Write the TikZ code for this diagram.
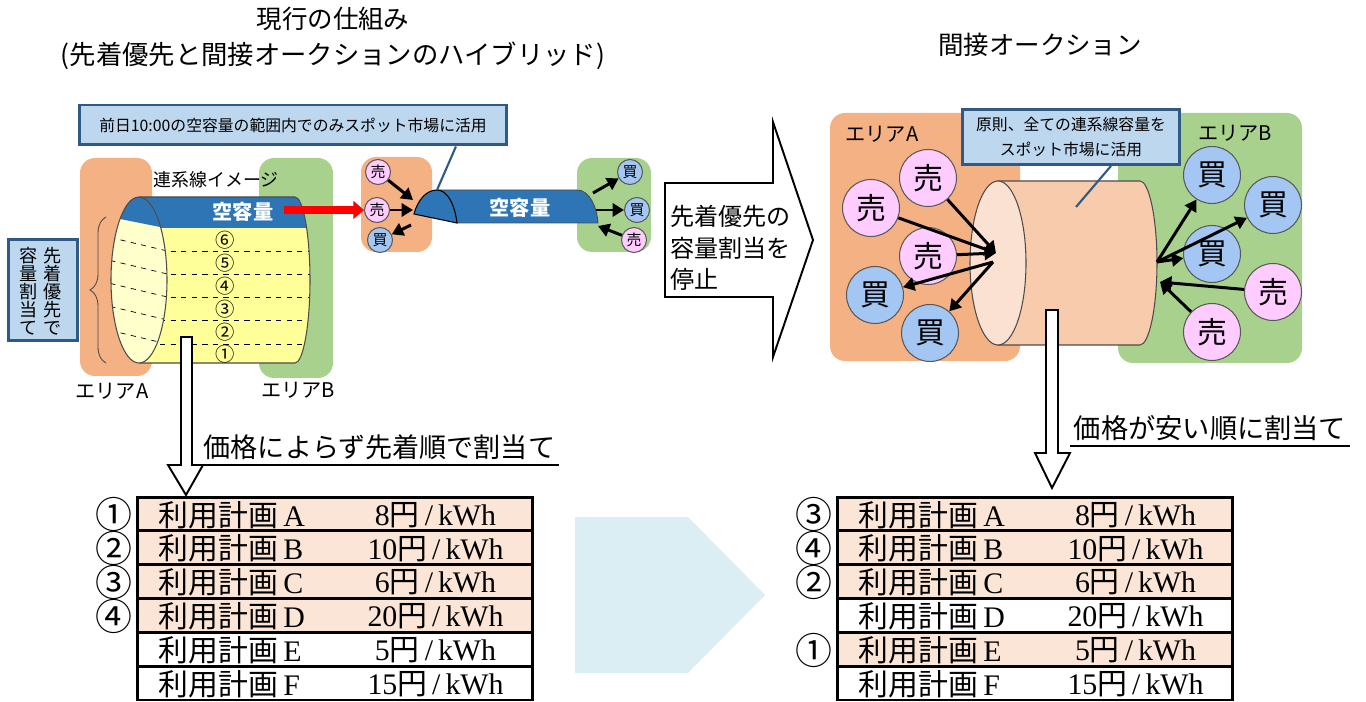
\documentclass[tikz,border=0pt]{standalone}
\usepackage{fontspec}
\setmainfont{Noto Sans CJK JP}
\newfontfamily\latinSerif{Liberation Serif}
\usetikzlibrary{calc,arrows.meta,decorations.pathreplacing}

\definecolor{areaOrange}{HTML}{F4B183}
\definecolor{areaGreen}{HTML}{A9D18E}
\definecolor{capBlue}{HTML}{2E75B6}
\definecolor{noteFill}{HTML}{BDD7EE}
\definecolor{noteEdge}{HTML}{2F5A85}
\definecolor{bandYellow}{HTML}{FFFF99}
\definecolor{faceYellow}{HTML}{FFFFCC}
\definecolor{sellPink}{HTML}{FFCCFF}
\definecolor{buyBlue}{HTML}{A3C7F2}
\definecolor{pipePeach}{HTML}{F8CBAD}
\definecolor{pipeFace}{HTML}{FBE1D2}
\definecolor{rowPeach}{HTML}{FBE5D6}
\definecolor{hintBlue}{HTML}{DAEEF3}

\newcommand{\fsz}[2]{\fontsize{#1}{#2}\selectfont}

\tikzset{
  area/.style={rounded corners=0.3cm},
  noteBox/.style={draw=noteEdge, line width=1.7pt, fill=noteFill, inner sep=0pt, align=center},
  noteLine/.style={draw=noteEdge, line width=1.2pt},
  dot/.style={circle, draw=black!65, line width=0.6pt, inner sep=0pt},
  sellDot/.style={dot, fill=sellPink},
  buyDot/.style={dot, fill=buyBlue},
  smallDot/.style={minimum size=0.5cm, font=\fsz{8.5}{9}},
  bigDot/.style={minimum size=1.14cm, font=\fsz{17}{18}},
  flow/.style={line width=1.7pt, -{Triangle[length=6.5pt,width=7.5pt]}},
  hollow/.style={draw, fill=white, line width=1.1pt, line join=miter},
  planRow/.style={draw, line width=1.7pt, minimum width=7.92cm, minimum height=0.677cm, inner sep=0pt},
  planText/.style={font=\fsz{17}{18}, inner sep=0pt},
  rankText/.style={font=\fsz{21}{22}, inner sep=0pt},
  capLabel/.style={text=white, font=\bfseries\fsz{11.5}{12}},
  areaLabel/.style={font=\fsz{11.5}{12}, inner sep=0pt},
}

\begin{document}
\begin{tikzpicture}[x=0.02cm, y=-0.02cm]
  \useasboundingbox (0,0) rectangle (1366,702);
  %titles
  \node[font=\fsz{14.5}{16}] (titleNow) at (333,19) {現行の仕組み};
  \node[font=\fsz{15}{16}] (titleNowSub) at (333,56) {(先着優先と間接オークションのハイブリッド)};
  \node[font=\fsz{14.5}{16}] (titleAuction) at (1040,45) {間接オークション};

  %areas
  \fill[areaOrange, area] (80,158) rectangle (152,376);
  \fill[areaGreen, area] (259,158) rectangle (333,378);
  \fill[areaOrange, area] (361,157) rectangle (432,252);
  \fill[areaGreen, area] (577,158) rectangle (651,252);
  \fill[areaOrange, area] (830,113) rectangle (1020,361);
  \fill[areaGreen, area] (1118,113) rectangle (1302,363);

  %pipe now
  \begin{scope}
    \clip (139,197) -- (295,197) .. controls (303,197) and (310,234) .. (310,280)
      .. controls (310,326) and (303,363) .. (295,363) -- (139,363) -- cycle;
    \fill[bandYellow] (130,190) rectangle (320,370);
    \fill[capBlue] (130,190) rectangle (320,228);
    \foreach \y in {251,274,297,320,344}
      \draw[dashed, line width=0.4pt] (139,\y) -- (320,\y);
  \end{scope}
  \draw[line width=0.6pt, black!70] (139,197) -- (295,197) .. controls (303,197) and (310,234) .. (310,280)
      .. controls (310,326) and (303,363) .. (295,363) -- (139,363);
  \begin{scope}
    \clip (139,280) ellipse [x radius=28, y radius=83];
    \fill[faceYellow] (100,190) rectangle (180,370);
    \fill[capBlue] (100,190) -- (180,190) -- (180,231) -- (100,215) -- cycle;
    \foreach \y in {251,274,297,320,344}
      \draw[dashed, line width=0.4pt] (100,\y-16) -- (180,\y+3);
  \end{scope}
  \draw[line width=0.6pt, black!70] (139,280) ellipse [x radius=28, y radius=83];
  \node[capLabel] (capText) at (243,212) {空容量};
  \foreach \n/\y in {⑥/240,⑤/263,④/286,③/309,②/332,①/354}
    \node[font=\fsz{11}{12}, inner sep=0pt] (band\y) at (225,\y) {\n};
  \node[font=\fsz{10.2}{11}] (pipeCaption) at (216,180) {連系線イメージ};
  \node[areaLabel] (areaNowA) at (112,391) {エリアA};
  \node[areaLabel] (areaNowB) at (298,390) {エリアB};
  \draw[decorate, decoration={brace, amplitude=0.32cm}, line width=0.5pt, black!70] (106,363) -- (106,217);

  %first come box
  \node[noteBox, minimum width=1.38cm, minimum height=2.04cm] (firstComeBox) at (43,290) {};
  \node[font=\fsz{10.3}{10.3}, align=center, inner sep=0pt] (firstComeR) at (53,291) {先\\着\\優\\先\\で};
  \node[font=\fsz{10.3}{10.3}, align=center, inner sep=0pt] (firstComeL) at (29,291) {容\\量\\割\\当\\て};

  %mini pipe
  \coordinate (domeTop) at (437,190);
  \filldraw[fill=capBlue, draw=black!70, line width=0.5pt] (437,190) -- (577,190)
    .. controls (590,190) and (597,208) .. (598,223) -- (457,223) -- cycle;
  \filldraw[fill=capBlue, draw=black, line width=0.6pt] (414,214) .. controls (418,199) and (427,190) .. (437,190)
    .. controls (448,190) and (455,206) .. (457,223) -- cycle;
  \node[capLabel] (capTextMini) at (520,208) {空容量};

  %note left
  \node[noteBox, minimum width=8.54cm, minimum height=0.8cm, font=\fsz{9}{10}] (noteLeft) at (293,125)
    {前日10:00の空容量の範囲内でのみスポット市場に活用};
  \draw[noteLine] ($(noteLeft.south east)+(-52,0)$) -- (domeTop);

  %small traders
  \node[sellDot, smallDot] (sellS1) at (378,172) {売};
  \node[sellDot, smallDot] (sellS2) at (377,210) {売};
  \node[buyDot, smallDot] (buyS1) at (380,240) {買};
  \node[buyDot, smallDot] (buyS2) at (630,172) {買};
  \node[buyDot, smallDot] (buyS3) at (637,210) {買};
  \node[sellDot, smallDot] (sellS3) at (634,240) {売};
  \coordinate (capEnd) at (284,210);
  \coordinate (domeInA) at (413,200);
  \coordinate (domeInB) at (413,210);
  \coordinate (domeOut) at (411,225);
  \coordinate (tailOutA) at (593,193);
  \coordinate (tailOutB) at (596,210);
  \coordinate (tailIn) at (598,226);
  \draw[red, line width=4pt, -{Triangle[length=6pt,width=10pt]}] (capEnd) -- (sellS2);
  \draw[flow] (sellS1) -- (domeInA);
  \draw[flow] (sellS2) -- (domeInB);
  \draw[flow] (domeOut) -- (buyS1);
  \draw[flow] (tailOutA) -- (buyS2);
  \draw[flow] (tailOutB) -- (buyS3);
  \draw[flow] (sellS3) -- (tailIn);

  %stop arrow
  \draw[hollow] (665,183) -- (773,183) -- (773,122) -- (813,240) -- (773,357) -- (773,297) -- (665,297) -- cycle;
  \node[anchor=west, align=left, font=\fsz{13.7}{17.8}, inner sep=0pt] (stopNote) at (670,248)
    {先着優先の\\容量割当を\\停止};

  %pipe auction
  \filldraw[fill=pipePeach, draw=black!70, line width=0.6pt] (998,181) -- (1140,181)
    .. controls (1149,181) and (1157,218) .. (1157,263) .. controls (1157,308) and (1149,345) .. (1140,345)
    -- (998,345) -- cycle;
  \filldraw[fill=pipeFace, draw=black!70, line width=0.6pt] (998,263) ellipse [x radius=28, y radius=82];
  \node[areaLabel] (areaNextA) at (882,134) {エリアA};
  \node[areaLabel] (areaNextB) at (1235,133) {エリアB};
  \node[noteBox, minimum width=4.34cm, minimum height=1.1cm, font=\fsz{9}{14.2}] (noteRight) at (1071,137)
    {原則、全ての連系線容量を\\スポット市場に活用};
  \coordinate (pipeSpot) at (1076,207);
  \draw[noteLine] ($(noteRight.south east)+(-70,0)$) -- (pipeSpot);

  %traders
  \node[sellDot, bigDot] (sellA1) at (928,178) {売};
  \node[sellDot, bigDot] (sellA2) at (871,208) {売};
  \node[sellDot, bigDot] (sellA3) at (928,256) {売};
  \node[buyDot, bigDot] (buyA1) at (875,295) {買};
  \node[buyDot, bigDot] (buyA2) at (930,333) {買};
  \node[buyDot, bigDot] (buyB1) at (1212,175) {買};
  \node[buyDot, bigDot] (buyB2) at (1273,205) {買};
  \node[buyDot, bigDot] (buyB3) at (1212,254) {買};
  \node[sellDot, bigDot] (sellB1) at (1273,292) {売};
  \node[sellDot, bigDot] (sellB2) at (1212,332) {売};
  \coordinate (hubA) at (996,253);
  \coordinate (hubAOut) at (993,262);
  \coordinate (hubB) at (1157,262);
  \coordinate (hubBIn) at (1160,282);
  \draw[flow] (sellA1) -- (hubA);
  \draw[flow] (sellA2) -- (hubA);
  \draw[flow] (sellA3) -- (hubA);
  \draw[flow] (hubAOut) -- (buyA1);
  \draw[flow] (hubAOut) -- (buyA2);
  \draw[flow] (hubB) -- (buyB1);
  \draw[flow] (hubB) -- (buyB2);
  \draw[flow] (hubB) -- (buyB3);
  \draw[flow] (sellB1) -- (hubBIn);
  \draw[flow] (sellB2) -- (hubBIn);

  %allocation arrows
  \draw[hollow] (181,337) -- (192,337) -- (192,465) -- (203,465) -- (186,495) -- (168,465) -- (181,465) -- cycle;
  \draw[hollow] (1046,310) -- (1058,310) -- (1058,453) -- (1070,453) -- (1052,488) -- (1035,453) -- (1046,453) -- cycle;
  \node[anchor=south west, font=\fsz{15.4}{16}, inner xsep=2pt, inner ysep=3pt] (orderNow) at (200,465)
    {価格によらず先着順で割当て};
  \draw[line width=1.2pt] (orderNow.south west) -- (orderNow.south east);
  \node[anchor=south west, font=\fsz{15.5}{16}, inner xsep=2pt, inner ysep=3pt] (orderNext) at (1070,446)
    {価格が安い順に割当て};
  \draw[line width=1.2pt] (orderNext.south west) -- (orderNext.south east);

  \fill[hintBlue] (575,517) -- (688,517) -- (765,595) -- (688,673) -- (575,673) -- cycle;

  %plans
  \foreach \i/\p/\c/\s in {1/A/8/rowPeach,2/B/10/rowPeach,3/C/6/rowPeach,4/D/20/rowPeach,5/E/5/white,6/F/15/white}{
    \node[planRow, fill=\s] (planNow\i) at (335,480.1+33.83*\i) {};
    \node[planText, anchor=west] (planNowName\i) at ($(planNow\i.west)+(23,1)$) {利用計画{\latinSerif\,\p}};
    \node[planText] (planNowCost\i) at ($(planNow\i.west)+(300,1)$) {{\latinSerif\c}円{\latinSerif\,/\,kWh}};
  }
  \foreach \i/\p/\c/\s in {1/A/8/rowPeach,2/B/10/rowPeach,3/C/6/rowPeach,4/D/20/white,5/E/5/rowPeach,6/F/15/white}{
    \node[planRow, fill=\s] (planNext\i) at (1035,480.1+33.83*\i) {};
    \node[planText, anchor=west] (planNextName\i) at ($(planNext\i.west)+(23,1)$) {利用計画{\latinSerif\,\p}};
    \node[planText] (planNextCost\i) at ($(planNext\i.west)+(300,1)$) {{\latinSerif\c}円{\latinSerif\,/\,kWh}};
  }
  \foreach \i/\r in {1/①,2/②,3/③,4/④}
    \node[rankText] (rankNow\i) at ($(planNow\i.west)+(-22,1)$) {\r};
  \foreach \i/\r in {1/③,2/④,3/②,5/①}
    \node[rankText] (rankNext\i) at ($(planNext\i.west)+(-22,1)$) {\r};
\end{tikzpicture}
\end{document}
